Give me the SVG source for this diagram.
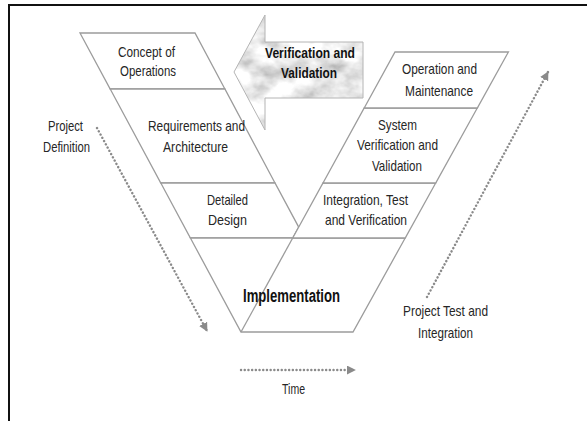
<svg xmlns="http://www.w3.org/2000/svg" width="587" height="421" viewBox="0 0 587 421">
  <style>
    .stage { fill: #ffffff; stroke: #9c9c9c; stroke-width: 1.3; stroke-linejoin: miter; }
    .edge { fill: none; stroke: #9c9c9c; stroke-width: 1.3; }
    .lbl { font-family: "Liberation Sans", Arial, sans-serif; font-size: 15px; fill: #262626; text-anchor: middle; }
    .bold { font-weight: bold; fill: #111111; }
    .flow { fill: none; stroke: #8a8a8a; stroke-width: 2.4; stroke-linecap: round; stroke-dasharray: 0.1 3.6; }
  </style>
  <defs>
    <marker id="head" viewBox="0 0 10 10" refX="9" refY="5" markerWidth="9" markerHeight="9" markerUnits="userSpaceOnUse" orient="auto">
      <path d="M0,0 L10,5 L0,10 Z" fill="#8a8a8a"/>
    </marker>
    <!-- marble-like grey fill for the big arrow -->
    <filter id="marble" x="0" y="0" width="1" height="1">
      <feTurbulence type="fractalNoise" baseFrequency="0.035 0.05" numOctaves="4" seed="7" result="noise"/>
      <feColorMatrix in="noise" type="matrix" values="1.1 0 0 0 0.3  1.1 0 0 0 0.3  1.1 0 0 0 0.3  0 0 0 0 1" result="grey"/>
      <feComposite in="grey" in2="SourceGraphic" operator="in"/>
    </filter>
  </defs>

  <rect width="587" height="421" fill="#ffffff"/>
  <!-- frame -->
  <path d="M9,421 V5 H587" fill="none" stroke="#111111" stroke-width="2"/>

  <!-- left leg -->
  <g id="concept-of-operations">
    <polygon class="stage" points="80,33 195,33 224.9,89 110.2,89"/>
    <text class="lbl" x="146.5" y="57" textLength="57" lengthAdjust="spacingAndGlyphs">Concept of</text>
    <text class="lbl" x="148" y="76" textLength="56" lengthAdjust="spacingAndGlyphs">Operations</text>
  </g>
  <g id="requirements-and-architecture">
    <polygon class="stage" points="110.2,89 224.9,89 275,183 160.8,183"/>
    <text class="lbl" x="196.5" y="131" textLength="97" lengthAdjust="spacingAndGlyphs">Requirements and</text>
    <text class="lbl" x="195.5" y="152" textLength="65" lengthAdjust="spacingAndGlyphs">Architecture</text>
  </g>
  <g id="detailed-design">
    <polygon class="stage" points="160.8,183 275,183 298.7,227.1 292.7,238 190.4,238"/>
    <text class="lbl" x="227.5" y="205" textLength="41" lengthAdjust="spacingAndGlyphs">Detailed</text>
    <text class="lbl" x="227.5" y="225" textLength="39" lengthAdjust="spacingAndGlyphs">Design</text>
  </g>

  <!-- bottom of the V -->
  <g id="implementation">
    <polygon class="stage" points="190.4,238 405.2,238 353,332 241,332"/>
    <line class="edge" x1="241" y1="332" x2="292.7" y2="238"/>
    <text class="lbl bold" x="291.5" y="302" textLength="97" lengthAdjust="spacingAndGlyphs" style="font-size:18px">Implementation</text>
  </g>

  <!-- right leg -->
  <g id="integration-test-and-verification">
    <polygon class="stage" points="323,183 435.7,183 405.2,238 292.7,238"/>
    <text class="lbl" x="365.5" y="205" textLength="85" lengthAdjust="spacingAndGlyphs">Integration, Test</text>
    <text class="lbl" x="366" y="225" textLength="82" lengthAdjust="spacingAndGlyphs">and Verification</text>
  </g>
  <g id="system-verification-and-validation">
    <polygon class="stage" points="364.2,108 477.3,108 435.7,183 323,183"/>
    <text class="lbl" x="397.5" y="130" textLength="39" lengthAdjust="spacingAndGlyphs">System</text>
    <text class="lbl" x="397.5" y="150" textLength="81" lengthAdjust="spacingAndGlyphs">Verification and</text>
    <text class="lbl" x="397" y="171" textLength="50" lengthAdjust="spacingAndGlyphs">Validation</text>
  </g>
  <g id="operation-and-maintenance">
    <polygon class="stage" points="395,52 508.4,52 477.3,108 364.2,108"/>
    <text class="lbl" x="439.5" y="74" textLength="75" lengthAdjust="spacingAndGlyphs">Operation and</text>
    <text class="lbl" x="439" y="96" textLength="68" lengthAdjust="spacingAndGlyphs">Maintenance</text>
  </g>

  <!-- big left-pointing arrow -->
  <g id="verification-and-validation">
    <path d="M234,72 L265,15 L265,42 L363,42 L363,98 L265,98 L265,130 Z" fill="#cccccc" filter="url(#marble)"/>
    <path d="M234,72 L265,15 L265,42 L363,42 L363,98 L265,98 L265,130 Z" fill="none" stroke="#b4b4b4" stroke-width="1"/>
    <text class="lbl bold" x="310" y="58" textLength="90" lengthAdjust="spacingAndGlyphs">Verification and</text>
    <text class="lbl bold" x="309" y="78" textLength="56" lengthAdjust="spacingAndGlyphs">Validation</text>
  </g>

  <!-- side and time labels -->
  <g id="project-definition">
    <text class="lbl" x="65.5" y="131" textLength="35" lengthAdjust="spacingAndGlyphs">Project</text>
    <text class="lbl" x="66.5" y="152" textLength="47" lengthAdjust="spacingAndGlyphs">Definition</text>
  </g>
  <g id="project-test-and-integration">
    <text class="lbl" x="445.5" y="316" textLength="85" lengthAdjust="spacingAndGlyphs">Project Test and</text>
    <text class="lbl" x="445.5" y="338" textLength="55" lengthAdjust="spacingAndGlyphs">Integration</text>
  </g>
  <g id="time">
    <text class="lbl" x="293.5" y="394" textLength="23" lengthAdjust="spacingAndGlyphs">Time</text>
  </g>

  <!-- dotted flow arrows -->
  <g id="connectors">
    <line class="flow" x1="97" y1="128" x2="207" y2="331" marker-end="url(#head)"/>
    <line class="flow" x1="427" y1="297" x2="548" y2="72" marker-end="url(#head)"/>
    <line class="flow" x1="241" y1="370" x2="355" y2="370" marker-end="url(#head)"/>
  </g>
</svg>
